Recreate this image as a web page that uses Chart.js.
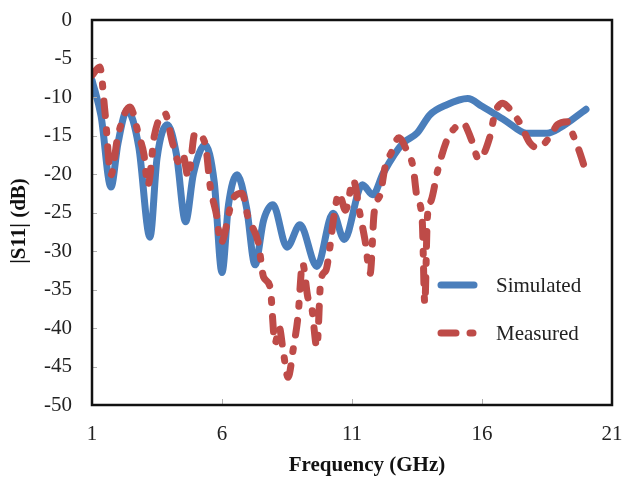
<!DOCTYPE html>
<html>
<head>
<meta charset="utf-8">
<script src="https://cdn.jsdelivr.net/npm/chart.js@4.4.1/dist/chart.umd.min.js"></script>
<style>
  html, body { margin: 0; padding: 0; background: #fff; }
  #wrap { width: 623px; height: 479px; }
</style>
</head>
<body>
<div id="wrap"><canvas id="s11Chart" width="623" height="479"></canvas></div>
<script>
// frequency in GHz, |S11| in dB
const simFreq = [1.0, 1.35, 1.73, 2.0, 2.35, 2.8, 3.23, 3.5, 3.9, 4.25, 4.6, 4.9, 5.35, 5.7, 6.0, 6.25, 6.58, 6.95, 7.27, 7.6, 7.96, 8.5, 9.0, 9.65, 10.27, 10.7, 11.4, 11.8, 12.2, 12.96, 13.5, 14.0, 14.65, 15.45, 16.0, 16.96, 17.7, 18.5, 19.0, 20.0];
const simDb = [-7.8, -12.5, -21.7, -16, -11.7, -16.5, -28.2, -18, -13.6, -17.5, -26.2, -20, -16.2, -21, -32.8, -24, -20.1, -24.5, -31.8, -26, -24.0, -29.5, -26.6, -32.0, -25.1, -28.5, -21.4, -22.7, -19.9, -16.0, -14.7, -12.3, -11.0, -10.2, -11.2, -13.2, -14.7, -14.7, -14.0, -11.6];

const measFreq = [1.0, 1.3, 1.5, 1.73, 2.0, 2.46, 2.8, 3.0, 3.15, 3.4, 3.8, 4.1, 4.35, 4.5, 4.7, 4.96, 5.35, 5.55, 5.8, 5.95, 6.4, 6.77, 7.0, 7.4, 7.6, 7.85, 8.04, 8.2, 8.35, 8.54, 8.75, 8.92, 9.1, 9.3, 9.45, 9.65, 9.8, 10.0, 10.15, 10.3, 10.5, 10.75, 11.05, 11.3, 11.5, 11.7, 11.85, 12.1, 12.27, 12.5, 12.8, 13.1, 13.35, 13.5, 13.7, 13.8, 13.9, 14.05, 14.3, 14.65, 14.96, 15.27, 15.6, 15.88, 16.3, 16.5, 16.8, 17.1, 17.46, 17.85, 18.15, 18.6, 18.9, 19.3, 19.5, 19.77, 19.95];
const measDb = [-7.2, -6.1, -12, -20.1, -15, -11.3, -15, -17.5, -21.5, -15, -12.1, -16, -18.5, -17.5, -20.4, -14.7, -16, -21.7, -25.5, -29, -23.4, -22.5, -25.6, -29, -33.4, -34.7, -42, -39.9, -42.9, -46.4, -42.5, -38.6, -31.6, -36, -37.3, -42.5, -33.8, -32.5, -29.5, -25.6, -22.5, -24.7, -20.8, -25.1, -28.6, -32.9, -25.1, -22.5, -19.1, -17.3, -15.3, -16.9, -19.1, -23, -26, -36.8, -25.6, -23.4, -19.5, -15.6, -14.0, -13.4, -15.6, -18.1, -15.2, -12.1, -10.8, -11.7, -13.4, -16, -16.6, -15.2, -13.6, -13.2, -14.9, -17.3, -19.2];

const xTicks = [1, 6, 11, 16, 21];
const yTicks = [0, -5, -10, -15, -20, -25, -30, -35, -40, -45, -50];

const serif = "'Liberation Serif', 'Times New Roman', serif";

function toPoints(xs, ys) {
    return xs.map((x, i) => ({ x: x, y: ys[i] }));
}

const framePlugin = {
    id: "frame",
    afterDatasetsDraw(chart) {
        const { ctx, chartArea: a, scales } = chart;
        ctx.save();
        // small inside tick marks
        ctx.strokeStyle = "#b0b0b0";
        ctx.lineWidth = 1;
        yTicks.forEach((v) => {
            const y = Math.round(scales.y.getPixelForValue(v)) + 0.5;
            ctx.beginPath();
            ctx.moveTo(a.left, y);
            ctx.lineTo(a.left + 5, y);
            ctx.stroke();
        });
        xTicks.forEach((v) => {
            const x = Math.round(scales.x.getPixelForValue(v)) + 0.5;
            ctx.beginPath();
            ctx.moveTo(x, a.bottom);
            ctx.lineTo(x, a.bottom - 6);
            ctx.stroke();
        });
        // box
        ctx.strokeStyle = "#111";
        ctx.lineWidth = 2.5;
        ctx.strokeRect(a.left, a.top, a.right - a.left, a.bottom - a.top);

        // axis titles
        ctx.fillStyle = "#111";
        ctx.font = "bold 21px " + serif;
        ctx.textAlign = "center";
        ctx.textBaseline = "middle";
        ctx.fillText("Frequency (GHz)", 367, 466);
        ctx.translate(20, 221);
        ctx.rotate(-Math.PI / 2);
        ctx.fillText("|S11| (dB)", 0, 0);
        ctx.restore();

        // legend
        ctx.save();
        ctx.lineCap = "round";
        ctx.font = "21px " + serif;
        ctx.textAlign = "left";
        ctx.textBaseline = "middle";
        chart.data.datasets.forEach((ds, i) => {
            const y = i === 0 ? 285 : 333;
            ctx.strokeStyle = ds.borderColor;
            ctx.lineWidth = ds.borderWidth;
            ctx.setLineDash(ds.borderDash || []);
            ctx.beginPath();
            ctx.moveTo(441, y);
            ctx.lineTo(i === 0 ? 474 : 476, y);
            ctx.stroke();
            ctx.setLineDash([]);
            ctx.fillStyle = "#222";
            ctx.fillText(ds.label, 496, y + 1);
        });
        ctx.restore();
    },
};

new Chart(document.getElementById("s11Chart"), {
    type: "line",
    data: {
        datasets: [
            {
                label: "Simulated",
                data: toPoints(simFreq, simDb),
                borderColor: "#4a7ebb",
                borderWidth: 7,
                pointRadius: 0,
                cubicInterpolationMode: "monotone",
                borderCapStyle: "round",
                borderJoinStyle: "round",
                order: 1,
            },
            {
                label: "Measured",
                data: toPoints(measFreq, measDb),
                borderColor: "#be4b48",
                borderWidth: 7,
                borderDash: [15, 14, 3, 14],
                pointRadius: 0,
                cubicInterpolationMode: "monotone",
                borderCapStyle: "round",
                borderJoinStyle: "round",
                order: 0,
            },
        ],
    },
    options: {
        responsive: false,
        animation: false,
        layout: { padding: { top: 20, right: 11, left: 0, bottom: 0 } },
        plugins: {
            legend: { display: false },
            tooltip: { enabled: false },
        },
        scales: {
            x: {
                type: "linear",
                min: 1,
                max: 21,
                grid: { display: false },
                border: { display: false },
                afterBuildTicks: (s) => { s.ticks = xTicks.map((v) => ({ value: v })); },
                afterFit: (s) => { s.height = 74; s.paddingLeft = 0; s.paddingRight = 0; },
                ticks: {
                    padding: 9,
                    color: "#222",
                    font: { family: serif, size: 21 },
                    maxRotation: 0,
                },
            },
            y: {
                min: -50,
                max: 0,
                grid: { display: false },
                border: { display: false },
                afterBuildTicks: (s) => { s.ticks = yTicks.map((v) => ({ value: v })); },
                afterFit: (s) => { s.width = 92; s.paddingTop = 0; s.paddingBottom = 0; },
                ticks: {
                    padding: 12,
                    color: "#222",
                    font: { family: serif, size: 21 },
                },
            },
        },
    },
    plugins: [framePlugin],
});
</script>
</body>
</html>
